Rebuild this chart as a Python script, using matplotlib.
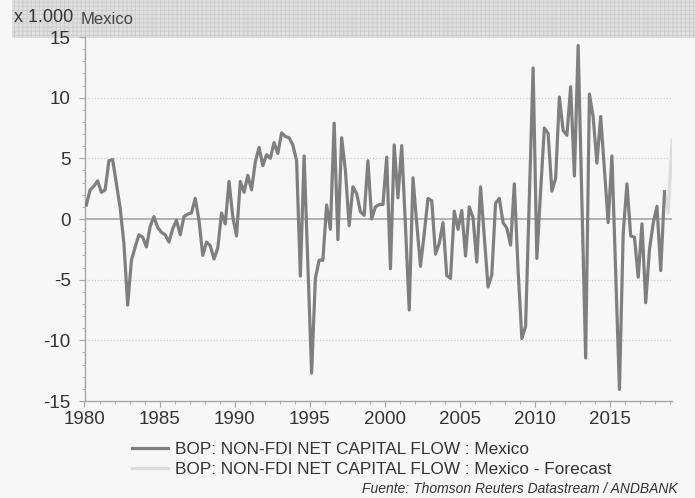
import matplotlib
matplotlib.use('Agg')
import matplotlib.pyplot as plt
from matplotlib.patches import Rectangle
from matplotlib.lines import Line2D

plt.rcParams['font.family'] = ['Liberation Sans', 'DejaVu Sans']
plt.rcParams['hatch.linewidth'] = 0.6
plt.rcParams['axes.unicode_minus'] = False

# quarterly BOP non-FDI net capital flow, Mexico (x 1.000), 1980Q1 onwards
flow = [
    1.15, 2.4, 2.7, 3.15, 2.2, 2.4, 4.8, 4.9, 2.9, 0.9,
    -2.0, -7.1, -3.4, -2.3, -1.3, -1.5, -2.3, -0.6, 0.2, -0.7,
    -1.1, -1.3, -1.9, -0.8, -0.1, -1.3, 0.2, 0.4, 0.5, 1.7,
    -0.1, -3.0, -1.9, -2.2, -3.3, -2.4, 0.5, -0.4, 3.1, 0.2,
    -1.4, 3.1, 2.2, 3.6, 2.4, 4.7, 5.9, 4.4, 5.3, 5.0,
    6.3, 5.4, 7.1, 6.8, 6.7, 6.1, 4.8, -4.7, 5.2, -3.7,
    -12.7, -4.9, -3.4, -3.4, 1.15, -0.85, 7.9, -1.7, 6.7, 4.0,
    -0.55, 2.65, 2.1, 0.6, 0.3, 4.8, 0.0, 1.0, 1.2, 1.2,
    5.1, -4.1, 6.1, 1.75, 6.05, -0.6, -7.5, 3.4, -0.35, -3.9,
    -1.2, 1.7, 1.5, -2.9, -2.0, -0.3, -4.65, -4.9, 0.65, -0.85,
    0.7, -3.05, 1.0, 0.1, -3.55, 2.65, -1.5, -5.6, -4.6, 1.3,
    1.7, -0.3, -0.75, -2.15, 2.9, -4.2, -9.85, -8.85, 1.9, 12.45,
    -3.25, 2.3, 7.5, 7.05, 2.3, 3.35, 10.05, 7.3, 6.9, 10.9,
    3.55, 14.3, 1.4, -11.45, 10.3, 8.4, 4.6, 8.45, 4.1, -0.3,
    5.2, -4.4, -14.05, -1.2, 2.9, -1.4, -1.5, -4.8, -0.4, -6.9,
    -2.5, -0.35, 1.05, -4.25, 2.25,
]
forecast = [2.25, 0.5, 6.5]

start_year = 1980
dates = [start_year + 0.125 + 0.25 * i for i in range(len(flow))]
fc_dates = [dates[-1] + 0.25 * i for i in range(len(forecast))]

year_ticks = [1980, 1985, 1990, 1995, 2000, 2005, 2010, 2015]
value_ticks = [-15, -10, -5, 0, 5, 10, 15]

label_main = 'BOP: NON-FDI NET CAPITAL FLOW : Mexico'
label_fc = 'BOP: NON-FDI NET CAPITAL FLOW : Mexico - Forecast'

bg = '#f7f7f7'
line_col = '#7f7f7f'
fc_col = '#dcdcdc'
axis_col = '#a6a6a6'

fig = plt.figure(figsize=(6.95, 4.98), dpi=100, facecolor=bg)
ax = fig.add_axes([84.5 / 695, 1 - 401 / 498, (672 - 84.5) / 695, 364 / 498])
ax.set_facecolor('none')

# header band, behind the axes
band = Rectangle((12 / 695, 1 - 38.5 / 498), 1, 38.5 / 498,
                 transform=fig.transFigure, facecolor='#e0e0e0',
                 edgecolor='#cccccc', hatch='++++', lw=0, zorder=-5)
fig.patches.append(band)

for v in [-10, -5, 5, 10]:
    ax.axhline(v, color='#cfcfcf', lw=0.9, ls=(0, (1, 1.5)), zorder=1)
ax.axhline(0, color=axis_col, lw=1.2, zorder=1)

ax.plot(fc_dates, forecast, color=fc_col, lw=2.3, zorder=2)
ax.plot(dates, flow, color=line_col, lw=2.3, zorder=3)

ax.set_xlim(start_year, fc_dates[-1])
ax.set_ylim(-15, 15)
ax.set_xticks(year_ticks)
ax.set_xticks(range(1980, 2020), minor=True)
ax.set_yticks(value_ticks)
ax.set_yticks(range(-15, 16), minor=True)

for s in ['top', 'right']:
    ax.spines[s].set_visible(False)
for s in ['left', 'bottom']:
    ax.spines[s].set_color(axis_col)
    ax.spines[s].set_linewidth(1.0)

ax.tick_params(axis='both', which='major', length=4, color=axis_col,
               labelsize=13.5, labelcolor='#333333')
ax.tick_params(axis='both', which='minor', length=2, color=axis_col)
ax.tick_params(axis='y', pad=6)
ax.tick_params(axis='x', pad=3)

fig.text(14 / 695, 1 - 17 / 498, 'x 1.000', fontsize=13, color='#333333', va='center')
fig.text(81 / 695, 1 - 19 / 498, 'Mexico', fontsize=12, color='#444444', va='center')

handles = [Line2D([], [], color=line_col, lw=2.3), Line2D([], [], color=fc_col, lw=2.3)]
fig.legend(handles, [label_main, label_fc], loc='upper left',
           bbox_to_anchor=(132 / 695, 1 - 442 / 498), frameon=False,
           fontsize=12.4, handlelength=2.1, handletextpad=0.4,
           labelspacing=0.3, borderpad=0, borderaxespad=0,
           labelcolor='#333333')

fig.text(678 / 695, 1 - 489 / 498, 'Fuente: Thomson Reuters Datastream / ANDBANK',
         fontsize=10, style='italic', color='#333333', ha='right', va='center')

fig.savefig('out.png', dpi=100, facecolor=bg)
